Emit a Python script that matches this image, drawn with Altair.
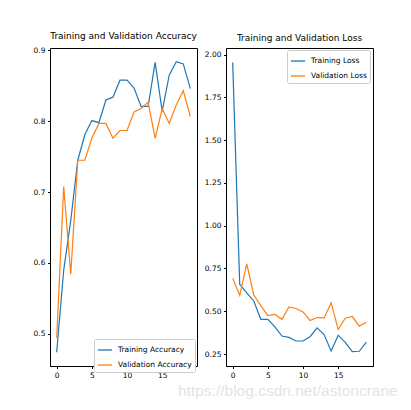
import altair as alt
import pandas as pd

epochs = list(range(20))
train_acc = [0.474, 0.59, 0.66, 0.745, 0.781, 0.801, 0.798, 0.830, 0.834, 0.858,
             0.858, 0.847, 0.821, 0.821, 0.883, 0.814, 0.865, 0.884, 0.881, 0.846]
val_acc = [0.494, 0.708, 0.584, 0.745, 0.745, 0.776, 0.797, 0.797, 0.776, 0.787,
           0.787, 0.813, 0.818, 0.827, 0.776, 0.818, 0.797, 0.823, 0.843, 0.807]
train_loss = [1.953, 0.657, 0.607, 0.560, 0.453, 0.453, 0.409, 0.355, 0.347, 0.326,
              0.326, 0.351, 0.403, 0.364, 0.267, 0.360, 0.318, 0.264, 0.266, 0.320]
val_loss = [0.692, 0.593, 0.777, 0.595, 0.533, 0.475, 0.481, 0.453, 0.525, 0.516,
            0.496, 0.446, 0.463, 0.461, 0.550, 0.393, 0.459, 0.469, 0.413, 0.436]

acc_names = ["Training Accuracy", "Validation Accuracy"]
loss_names = ["Training Loss", "Validation Loss"]
acc_ticks = [0.5, 0.6, 0.7, 0.8, 0.9]
loss_ticks = [0.25, 0.5, 0.75, 1.0, 1.25, 1.5, 1.75, 2.0]
x_ticks = [0, 5, 10, 15]
watermark = "https://blog.csdn.net/astoncrane"

acc_df = pd.DataFrame({
    "epoch": epochs * 2,
    "value": train_acc + val_acc,
    "series": [acc_names[0]] * 20 + [acc_names[1]] * 20,
})
loss_df = pd.DataFrame({
    "epoch": epochs * 2,
    "value": train_loss + val_loss,
    "series": [loss_names[0]] * 20 + [loss_names[1]] * 20,
})

FONT = "DejaVu Sans"
W, H = 147, 318
colors = ["#1f77b4", "#ff7f0e"]

xenc = alt.X("epoch:Q", scale=alt.Scale(domain=[-0.95, 19.95], nice=False, zero=False),
             axis=alt.Axis(values=x_ticks, title=None, format="d"))


def legend(lx, ly):
    return alt.Legend(title=None, orient="none", legendX=lx, legendY=ly,
                      symbolType="stroke", symbolSize=200, symbolStrokeWidth=1.3,
                      labelFontSize=7.5, labelFont=FONT, labelColor="#000",
                      fillColor="white", strokeColor="#cccccc", cornerRadius=2,
                      padding=3, rowPadding=3, labelOffset=5)


def title(t):
    return alt.TitleParams(t, fontSize=9, font=FONT, fontWeight="normal",
                           color="#000", offset=5)


acc_lines = alt.Chart(acc_df).mark_line(strokeWidth=1.2).encode(
    x=xenc,
    y=alt.Y("value:Q", scale=alt.Scale(domain=[0.4546, 0.9034], nice=False, zero=False),
            axis=alt.Axis(values=acc_ticks, format=".1f", title=None)),
    color=alt.Color("series:N", scale=alt.Scale(domain=acc_names, range=colors),
                    legend=legend(44, 291)),
)

wm = alt.Chart(pd.DataFrame({"t": [watermark]})).mark_text(
    align="left", baseline="alphabetic", fontSize=15.5, font="Liberation Sans",
    color="#e4e4e4", clip=False,
).encode(x=alt.value(128), y=alt.value(348), text="t:N")

left = alt.layer(acc_lines, wm).properties(
    width=W, height=H, title=title("Training and Validation Accuracy"),
)

right = alt.Chart(loss_df).mark_line(strokeWidth=1.2).encode(
    x=xenc,
    y=alt.Y("value:Q", scale=alt.Scale(domain=[0.180, 2.038], nice=False, zero=False),
            axis=alt.Axis(values=loss_ticks, format=".2f", title=None)),
    color=alt.Color("series:N", scale=alt.Scale(domain=loss_names, range=colors),
                    legend=legend(61, 2)),
).properties(
    width=W, height=H, title=title("Training and Validation Loss"),
)

chart = alt.hconcat(left, right, spacing=29, bounds="flush").resolve_scale(
    color="independent"
).properties(
    padding={"left": 24, "top": 23, "right": 0, "bottom": 2},
    background="white",
).configure_view(
    stroke="#000", strokeWidth=1,
).configure_axis(
    domain=False, grid=False, tickColor="#000", tickSize=2.5, labelPadding=2.5,
    labelFont=FONT, labelFontSize=7.5, labelColor="#000",
)

chart.save("out.html", embed_options={"renderer": "svg", "actions": False})
